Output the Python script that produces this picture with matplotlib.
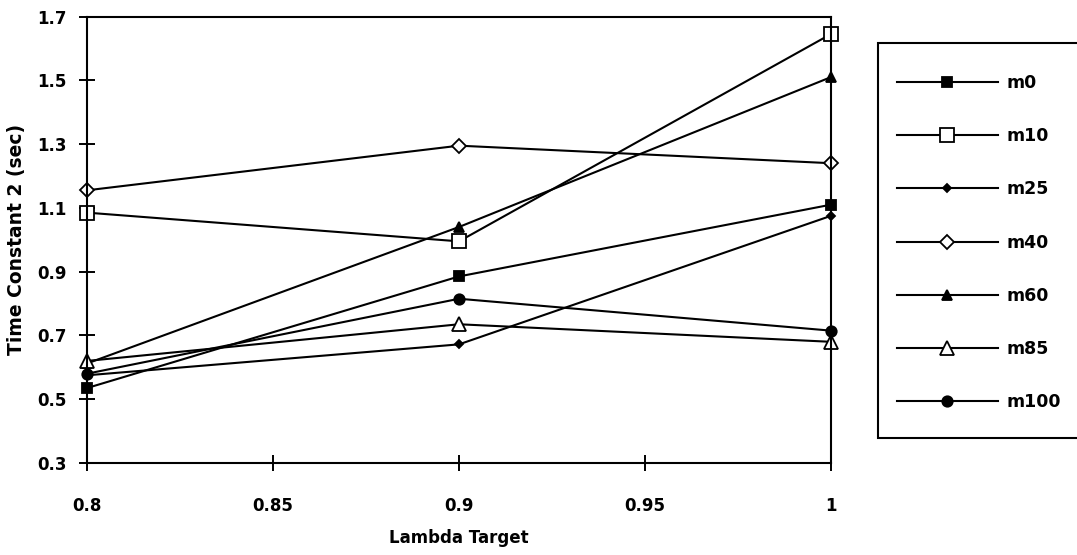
import matplotlib
matplotlib.use("Agg")
import matplotlib.pyplot as plt
from matplotlib.patches import Rectangle

plt.rcParams['font.family'] = ['DejaVu Sans']
plt.rcParams['font.weight'] = 'bold'

# Lambda target settings (x) and time constant 2 values (sec) per series
lambda_target = [0.8, 0.9, 1.0]
series_names = ["m0", "m10", "m25", "m40", "m60", "m85", "m100"]
m0 = [0.535, 0.885, 1.11]
m10 = [1.085, 0.995, 1.645]
m25 = [0.575, 0.672, 1.075]
m40 = [1.155, 1.295, 1.24]
m60 = [0.612, 1.04, 1.51]
m85 = [0.62, 0.735, 0.68]
m100 = [0.58, 0.815, 0.715]

x_ticks = [0.8, 0.85, 0.9, 0.95, 1.0]
x_tick_labels = ["0.8", "0.85", "0.9", "0.95", "1"]
y_ticks = [0.3, 0.5, 0.7, 0.9, 1.1, 1.3, 1.5, 1.7]
y_tick_labels = ["0.3", "0.5", "0.7", "0.9", "1.1", "1.3", "1.5", "1.7"]

# marker style per series: (marker, size, face colour)
styles = {
    "m0": ("s", 7.0, "black"),
    "m10": ("s", 9.5, "white"),
    "m25": ("D", 4.5, "black"),
    "m40": ("D", 7.5, "white"),
    "m60": ("^", 6.5, "black"),
    "m85": ("^", 10.0, "white"),
    "m100": ("o", 7.5, "black"),
}
values = {"m0": m0, "m10": m10, "m25": m25, "m40": m40,
          "m60": m60, "m85": m85, "m100": m100}

W, H = 1077, 555
fig = plt.figure(figsize=(W / 100, H / 100), dpi=100)
ax = fig.add_axes([87 / W, 1 - 463 / H, (831 - 87) / W, (463 - 16.5) / H])

handles = []
for name in series_names:
    mk, ms, fc = styles[name]
    ln, = ax.plot(lambda_target, values[name], color="black", lw=1.5,
                  marker=mk, markersize=ms, markerfacecolor=fc,
                  markeredgecolor="black", markeredgewidth=1.3,
                  clip_on=False, label=name)
    handles.append(ln)

ax.set_xlim(0.8, 1.0)
ax.set_ylim(0.3, 1.7)
ax.set_xticks(x_ticks)
ax.set_xticklabels(x_tick_labels)
ax.set_yticks(y_ticks)
ax.set_yticklabels(y_tick_labels)
ax.tick_params(axis="both", direction="inout", length=11, width=1.4,
               labelsize=12, color="black")
ax.tick_params(axis="x", pad=19)
ax.tick_params(axis="y", pad=9)
for t in ax.get_xticklabels() + ax.get_yticklabels():
    t.set_fontweight("bold")
for sp in ax.spines.values():
    sp.set_linewidth(1.5)

ax.set_xlabel("Lambda Target", fontsize=12, fontweight="bold", labelpad=10)
ax.set_ylabel("Time Constant 2 (sec)", fontsize=13.5, fontweight="bold", labelpad=8)

# legend frame running off the right edge
fig.add_artist(Rectangle((878 / W, 1 - 438 / H), (1090 - 878) / W, (438 - 43) / H,
                         transform=fig.transFigure, facecolor="white",
                         edgecolor="black", linewidth=1.5, zorder=0, clip_on=False))
fig.legend(handles=handles, loc="upper left",
           bbox_to_anchor=(897 / W, 1 - 74 / H), frameon=False,
           handlelength=5.8, handletextpad=0.5,
           labelspacing=2.03, borderpad=0, borderaxespad=0,
           prop={"weight": "bold", "size": 12.5})

fig.savefig("out.png", dpi=100)
